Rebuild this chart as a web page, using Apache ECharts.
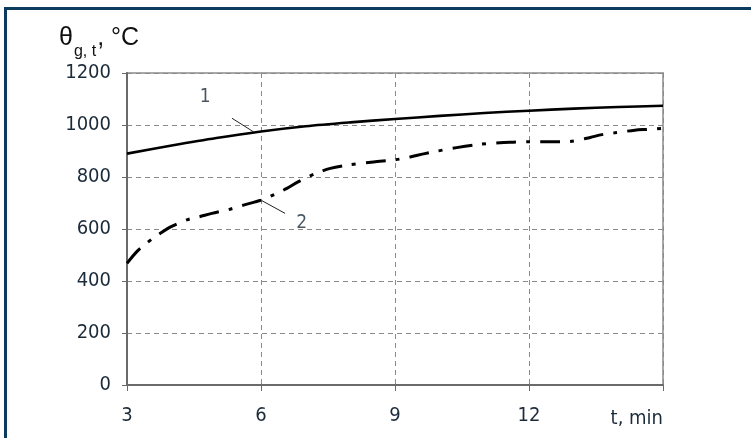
<!DOCTYPE html>
<html><head><meta charset="utf-8">
<script src="https://cdn.jsdelivr.net/npm/echarts@6/dist/echarts.min.js"></script>
<style>html,body{margin:0;padding:0;background:#fff}#c{width:751px;height:438px}</style>
</head><body><div id="c"></div>
<script>
// t, min
const curve1T = [3, 4, 5, 6, 7, 8, 9, 10, 11, 12, 13, 14, 15];
const curve1V = [890, 921, 950, 975, 995, 1010, 1023, 1035, 1046, 1055, 1063, 1069, 1074];
const curve2T = [3, 3.22, 3.45, 3.68, 4.0, 4.34, 4.62, 4.9, 5.3, 5.61, 6, 6.3, 6.58, 6.84, 7.2, 7.55, 7.92, 8.52, 9, 9.34, 9.64, 9.9, 10.38, 10.9, 11.35, 11.65, 12, 12.36, 12.66, 12.92, 13.37, 13.63, 13.92, 14.37, 14.63, 15];
const curve2V = [468, 513, 547, 576, 610, 635, 647, 660, 676, 692, 711, 733, 756, 782, 812, 833, 845, 858, 866, 877, 889, 898, 913, 926, 932, 934, 936, 936, 936, 937, 952, 963, 970, 980, 983, 987];
const xTicks = [3, 6, 9, 12];
const yTicks = [0, 200, 400, 600, 800, 1000, 1200];
const curveNames = ['1', '2'];
const leader1 = [[5.35, 1026], [5.83, 974]];
const leader2 = [[6.02, 709], [6.54, 660]];
const labelPos = [[4.75, 1109], [6.91, 622]];

const pair = (t, v) => t.map((x, i) => [x, v[i]]);
const font = "'Liberation Sans Narrow', 'DejaVu Sans Condensed', Roboto, sans-serif";
const txt = '#1c2b3a';

const chart = echarts.init(document.getElementById('c'), null, {renderer: 'canvas'});
chart.setOption({
  animation: false,
  backgroundColor: '#fff',
  title: {
    text: '{a|θ}{s|g, t}{a|, °C}',
    left: 54, top: 21,
    textStyle: {
      fontWeight: 'normal',
      rich: {
        a: {fontSize: 25, fontWeight: 'normal', fontFamily: "'Liberation Sans', Arial, sans-serif", color: '#111', verticalAlign: 'bottom'},
        s: {fontSize: 16, fontWeight: 'normal', fontFamily: "'Liberation Sans', Arial, sans-serif", color: '#111', padding: [0, 1, -9, 1], verticalAlign: 'bottom'}
      }
    }
  },
  graphic: [{
    type: 'rect', shape: {x: 5.5, y: 8.5, width: 820, height: 500},
    style: {fill: 'none', stroke: '#0c3c5d', lineWidth: 3}, silent: true
  }],
  grid: {left: 127, right: 88, top: 73, bottom: 53, show: true, borderColor: '#a8a8a8', borderWidth: 2},
  xAxis: {
    type: 'value', min: 3, max: 15, interval: 3,
    name: 't, min', nameLocation: 'end', nameGap: 0,
    nameTextStyle: {align: 'right', verticalAlign: 'top', padding: [24, 0, 0, 0], fontSize: 20, fontFamily: font, color: txt},
    axisLine: {show: true, lineStyle: {color: '#6a6a6a', width: 2}},
    axisTick: {show: true, length: 6, lineStyle: {color: '#6a6a6a', width: 1}},
    axisLabel: {
      margin: 21, fontSize: 20, fontFamily: font, color: txt,
      formatter: v => xTicks.includes(v) ? String(v) : ''
    },
    splitLine: {show: true, lineStyle: {color: '#8a8a8a', type: [5, 4], width: 1}}
  },
  yAxis: {
    type: 'value', min: 0, max: 1200, interval: 200,
    axisLine: {show: true, lineStyle: {color: '#6a6a6a', width: 2}},
    axisTick: {show: true, length: 5, lineStyle: {color: '#6a6a6a', width: 1}},
    axisLabel: {
      margin: 16, fontSize: 20, fontFamily: font, color: txt,
      formatter: v => yTicks.includes(v) ? String(v) : ''
    },
    splitLine: {show: true, lineStyle: {color: '#8a8a8a', type: [5, 4], width: 1}}
  },
  series: [
    {
      name: curveNames[0], type: 'line', data: pair(curve1T, curve1V), smooth: 0.3,
      showSymbol: false, lineStyle: {color: '#000', width: 2.6}, z: 5
    },
    {
      name: curveNames[1], type: 'line', data: pair(curve2T, curve2V), smooth: 0.3,
      showSymbol: false, lineStyle: {color: '#000', width: 3, type: [20, 10, 4, 10], cap: 'butt'}, z: 5
    },
    {
      type: 'line', data: leader1, showSymbol: false, lineStyle: {color: '#222', width: 1}, z: 4
    },
    {
      type: 'line', data: leader2, showSymbol: false, lineStyle: {color: '#222', width: 1}, z: 4
    },
    {
      type: 'scatter', symbolSize: 0,
      data: labelPos.map((p, i) => ({value: p, name: curveNames[i]})),
      label: {show: true, position: 'inside', formatter: p => p.name, fontSize: 19, fontFamily: font, color: txt},
      z: 6
    }
  ]
});
</script></body></html>
